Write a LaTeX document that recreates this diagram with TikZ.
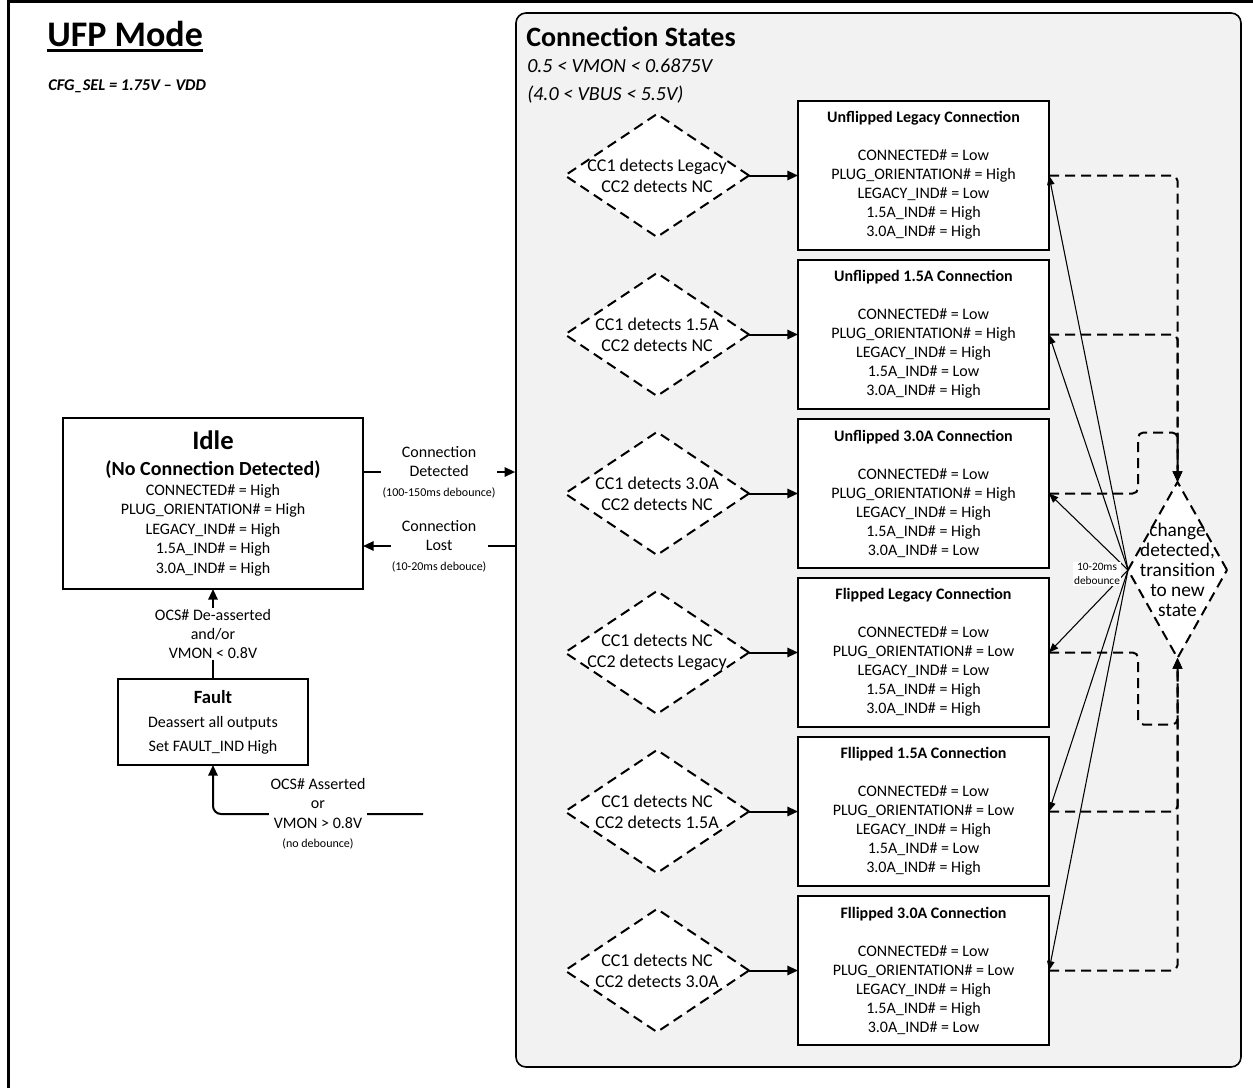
\documentclass[tikz,border=0pt]{standalone}
\usepackage{fontspec}
\setmainfont{Carlito}
\usetikzlibrary{arrows.meta, positioning, shapes.geometric}

\newcommand{\deb}[1]{{\fontsize{9}{11}\selectfont #1}}

\begin{document}
\begin{tikzpicture}[x=0.75pt, y=-0.75pt, >={Triangle[length=8pt, width=7pt]},
  box/.style={draw, line width=1.2pt, fill=white, align=center, inner sep=0pt, outer sep=0pt},
  statebox/.style={box, minimum width=188.25pt, minimum height=111.75pt, font=\fontsize{12}{14.25}\selectfont},
  detect/.style={diamond, draw, line width=1.5pt, dash pattern=on 7.5pt off 4.5pt, fill=white, minimum width=138pt, minimum height=92.25pt, inner sep=0pt, outer sep=0pt},
  ctext/.style={font=\fontsize{13.5}{15.75}\selectfont, align=center},
  go/.style={->, line width=1.5pt},
  back/.style={->, line width=1.5pt, dash pattern=on 7.5pt off 4.5pt, rounded corners=4pt},
  jump/.style={-{Triangle[length=7pt, width=5.5pt]}, line width=0.8pt},
  tlabel/.style={fill=white, inner sep=1pt, align=center, font=\fontsize{12}{14.6}\selectfont}]

\useasboundingbox (0,0) rectangle (1253,1088);

% Frame and titles
\draw[line width=2.25pt] (8,1088) -- (8,2) -- (1253,2);
\node[anchor=base west, inner sep=0pt, font=\fontsize{27}{32}\selectfont\bfseries] (ufp) at (47,47) {UFP Mode};
\draw[line width=2.2pt] ([yshift=-2.6pt]ufp.base west) -- ([yshift=-2.6pt]ufp.base east);
\node[anchor=base west, inner sep=0pt, font=\fontsize{12.3}{14}\selectfont\bfseries\itshape] (cfg) at (48,91) {CFG\_SEL = 1.75V – VDD};

% Connection states area
\node[draw, line width=1.2pt, fill=gray!10, rounded corners=7.5pt, minimum width=543.75pt, minimum height=790.5pt] (cs) at (878.5,540) {};
\node[anchor=base west, inner sep=0pt, font=\fontsize{21}{25}\selectfont\bfseries] (cstitle) at (526,47) {Connection States};
\node[anchor=base west, inner sep=0pt, font=\fontsize{15}{18}\selectfont\itshape] (vmon) at (527,73) {0.5 < VMON < 0.6875V};
\node[anchor=base west, inner sep=0pt, font=\fontsize{15}{18}\selectfont\itshape] (vbus) at (527,101) {(4.0 < VBUS < 5.5V)};

% State boxes
\node[statebox] (st1) at (923.5,175.5) {\textbf{Unflipped Legacy Connection}\\[14.25pt] CONNECTED\# = Low\\ PLUG\_ORIENTATION\# = High\\ LEGACY\_IND\# = Low\\ 1.5A\_IND\# = High\\ 3.0A\_IND\# = High};
\node[statebox, below=7.5pt of st1] (st2) {\textbf{Unflipped 1.5A Connection}\\[14.25pt] CONNECTED\# = Low\\ PLUG\_ORIENTATION\# = High\\ LEGACY\_IND\# = High\\ 1.5A\_IND\# = Low\\ 3.0A\_IND\# = High};
\node[statebox, below=7.5pt of st2] (st3) {\textbf{Unflipped 3.0A Connection}\\[14.25pt] CONNECTED\# = Low\\ PLUG\_ORIENTATION\# = High\\ LEGACY\_IND\# = High\\ 1.5A\_IND\# = High\\ 3.0A\_IND\# = Low};
\node[statebox, below=7.5pt of st3] (st4) {\textbf{Flipped Legacy Connection}\\[14.25pt] CONNECTED\# = Low\\ PLUG\_ORIENTATION\# = Low\\ LEGACY\_IND\# = Low\\ 1.5A\_IND\# = High\\ 3.0A\_IND\# = High};
\node[statebox, below=7.5pt of st4] (st5) {\textbf{Fllipped 1.5A Connection}\\[14.25pt] CONNECTED\# = Low\\ PLUG\_ORIENTATION\# = Low\\ LEGACY\_IND\# = High\\ 1.5A\_IND\# = Low\\ 3.0A\_IND\# = High};
\node[statebox, below=7.5pt of st5] (st6) {\textbf{Fllipped 3.0A Connection}\\[14.25pt] CONNECTED\# = Low\\ PLUG\_ORIENTATION\# = Low\\ LEGACY\_IND\# = High\\ 1.5A\_IND\# = High\\ 3.0A\_IND\# = Low};

% Detection diamonds
\node[detect, left=36.75pt of st1, label={[ctext]center:{CC1 detects Legacy\\CC2 detects NC}}] (d1) {};
\node[detect, left=36.75pt of st2, label={[ctext]center:{CC1 detects 1.5A\\CC2 detects NC}}] (d2) {};
\node[detect, left=36.75pt of st3, label={[ctext]center:{CC1 detects 3.0A\\CC2 detects NC}}] (d3) {};
\node[detect, left=36.75pt of st4, label={[ctext]center:{CC1 detects NC\\CC2 detects Legacy}}] (d4) {};
\node[detect, left=36.75pt of st5, label={[ctext]center:{CC1 detects NC\\CC2 detects 1.5A}}] (d5) {};
\node[detect, left=36.75pt of st6, label={[ctext]center:{CC1 detects NC\\CC2 detects 3.0A}}] (d6) {};

\draw[go] (d1) -- (st1);
\draw[go] (d2) -- (st2);
\draw[go] (d3) -- (st3);
\draw[go] (d4) -- (st4);
\draw[go] (d5) -- (st5);
\draw[go] (d6) -- (st6);

% Change detected
\node[detect, minimum width=74.25pt, minimum height=132pt, label={[font=\fontsize{14.5}{15}\selectfont, align=center]center:{change\\detected,\\transition\\to new\\state}}] (chg) at (1177.5,570) {};

\draw[back] (st1.east) -| (chg.north);
\draw[back] (st2.east) -| (chg.north);
\draw[back] (st3.east) -| ++(89,-61) -| (chg.north);
\draw[back] (st4.east) -| ++(89,72) -| (chg.south);
\draw[back] (st5.east) -| (chg.south);
\draw[back] (st6.east) -| (chg.south);

\draw[jump] (chg.west) -- (st1.east);
\draw[jump] (chg.west) -- (st2.east);
\draw[jump] (chg.west) -- (st3.east);
\draw[jump] (chg.west) -- (st4.east);
\draw[jump] (chg.west) -- (st5.east);
\draw[jump] (chg.west) -- (st6.east);
\node[fill=white, inner sep=1pt, align=center, font=\fontsize{8.5}{10.5}\selectfont] (debtext) at (1097,574) {10-20ms\\debounce};

% Idle and fault
\node[box, minimum width=225pt, minimum height=128.25pt, font=\fontsize{12}{14.6}\selectfont] (idle) at (213,503.5) {{\fontsize{20}{24}\selectfont\bfseries Idle}\\[4.9pt] {\fontsize{15}{18}\selectfont\bfseries (No Connection Detected)}\\ CONNECTED\# = High\\ PLUG\_ORIENTATION\# = High\\ LEGACY\_IND\# = High\\ 1.5A\_IND\# = High\\ 3.0A\_IND\# = High};
\node[box, minimum width=142.5pt, minimum height=64.5pt, font=\fontsize{12}{18}\selectfont] (fault) at (213,722) {{\fontsize{14}{18}\selectfont\bfseries Fault}\\ Deassert all outputs\\ Set FAULT\_IND High};

\draw[go] (idle.east |- 0,472) -- node[tlabel] {Connection\\Detected\\\deb{(100-150ms debounce)}} (cs.west |- 0,472);
\draw[go] (cs.west |- 0,546) -- node[tlabel] {Connection\\Lost\\\deb{(10-20ms debouce)}} (idle.east |- 0,546);
\draw[go] (fault) -- node[tlabel] {OCS\# De-asserted\\and/or\\VMON < 0.8V} (idle);

\coordinate (ocs) at (423,814);
\draw[go, rounded corners=6pt] (ocs) -- node[tlabel] {OCS\# Asserted\\or\\VMON > 0.8V\\\deb{(no debounce)}} (fault.south |- ocs) -- (fault.south);

\end{tikzpicture}
\end{document}
